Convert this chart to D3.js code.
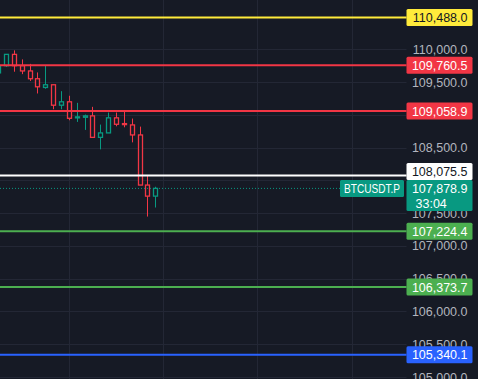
<!DOCTYPE html>
<html>
<head>
<meta charset="utf-8">
<script src="https://cdn.jsdelivr.net/npm/d3@7"></script>
<style>
  html, body { margin: 0; padding: 0; background: #161a25; overflow: hidden; }
</style>
</head>
<body>
<div id="chart-container"></div>
<script>
// candles, oldest first (first one is cut by the left edge)
var candleOpen  = [109642, 109752, 109925, 109752, 109672, 109553, 109420, 109461, 109149, 109201, 108956, 108965, 108986, 108658, 108726, 108956, 108868, 108848, 108695, 107930, 107761];
var candleHigh  = [109760, 109930, 109986, 109848, 109780, 109649, 109754, 109461, 109363, 109293, 109185, 109006, 109124, 108853, 109037, 109037, 109057, 108945, 108822, 108077, 107904];
var candleLow   = [109620, 109734, 109660, 109623, 109519, 109328, 109400, 109087, 109087, 108919, 108894, 108772, 108658, 108475, 108726, 108827, 108812, 108582, 107930, 107449, 107587];
var candleClose = [109752, 109925, 109752, 109672, 109553, 109430, 109461, 109149, 109201, 108949, 108971, 108986, 108658, 108726, 108956, 108858, 108853, 108695, 107930, 107761, 107878.9];

// horizontal levels drawn on the chart
var levelPrices = [110488.0, 109760.5, 109058.9, 108075.5, 107224.4, 106373.7, 105340.1];
var levelKinds  = ["yellow", "red", "red", "white", "green", "green", "blue"];

var priceTicks = [105000, 105500, 106000, 106500, 107000, 107500, 108000, 108500, 109000, 109500, 110000, 110500];
var timeGridIndex = [9, 21, 33, 45];

var symbolName = "BTCUSDT.P";
var lastPrice = 107878.9;
var countdown = "33:04";

var outterWidth = 478;
var outterHeight = 379;
var plotRight = 406.5;
var bg = "#161a25";
var gridColor = "#232735";
var upColor = "#089981";
var downColor = "#f23645";
var levelColors = {
  yellow: {line: "#ffeb3b", text: "#131722"},
  red: {line: "#f23645", text: "#ffffff"},
  white: {line: "#ffffff", text: "#131722"},
  green: {line: "#4caf50", text: "#ffffff"},
  blue: {line: "#2962ff", text: "#ffffff"}
};
var fontFamily = "'Liberation Sans', Arial, sans-serif";

var fmt = d3.format(",.1f");

var svg = d3.select("div#chart-container").append("svg")
  .attr("width", outterWidth)
  .attr("height", outterHeight)
  .style("display", "block")
  .style("background", bg);

var y = d3.scaleLinear().domain([105000, 110500]).range([377.0, 16.7]);
var x = d3.scaleLinear().domain([0, 20]).range([-1.9, 155.3]);

var boxW = 66;
var boxH = 17;
var closeTop = y(lastPrice) - 8.5;
var closeBoxH = 31;

var levels = levelPrices.map(function (p, i) { return {price: p, kind: levelKinds[i]}; });
// box centre of each level label, pushed up when it would sit on the last price box
levels.forEach(function (d) {
  var cy = y(d.price);
  if (cy + boxH / 2 > closeTop && cy - boxH / 2 < closeTop + closeBoxH) cy = closeTop - boxH / 2;
  d.cy = cy;
});

// grid
var grid = svg.append("g").attr("class", "grid");
grid.selectAll("line.h").data(priceTicks).enter().append("line")
  .attr("class", "h")
  .attr("x1", 0).attr("x2", plotRight)
  .attr("y1", function (d) { return Math.round(y(d)) + 0.5; })
  .attr("y2", function (d) { return Math.round(y(d)) + 0.5; })
  .attr("stroke", gridColor).attr("stroke-width", 1);
grid.selectAll("line.v").data(timeGridIndex).enter().append("line")
  .attr("class", "v")
  .attr("x1", function (d) { return Math.round(x(d)) + 0.5; })
  .attr("x2", function (d) { return Math.round(x(d)) + 0.5; })
  .attr("y1", 0).attr("y2", outterHeight)
  .attr("stroke", gridColor).attr("stroke-width", 1);

// price axis labels - the ones hidden under a price box are not drawn
function hiddenTick(v) {
  var ty = y(v);
  if (Math.abs(ty - (closeTop + closeBoxH / 2)) < closeBoxH / 2) return true;
  return levels.some(function (d) { return Math.abs(ty - d.cy) < 6; });
}
svg.append("g").attr("class", "priceAxis")
  .selectAll("text").data(priceTicks.filter(function (v) { return !hiddenTick(v); })).enter().append("text")
  .attr("x", 467.5)
  .attr("y", function (d) { return y(d); })
  .attr("dy", "0.36em")
  .attr("text-anchor", "end")
  .attr("font-size", "12.5px")
  .attr("font-family", fontFamily)
  .attr("fill", "#b2b5be")
  .text(function (d) { return fmt(d); });

// candles (hollow bodies)
var candles = d3.range(candleOpen.length).map(function (i) {
  return {i: i, o: candleOpen[i], h: candleHigh[i], l: candleLow[i], c: candleClose[i]};
});
var bodyW = 4;
var cg = svg.append("g").attr("class", "candles");
var candle = cg.selectAll("g").data(candles).enter().append("g");
candle.append("line")
  .attr("x1", function (d) { return Math.round(x(d.i)) + 0.5; })
  .attr("x2", function (d) { return Math.round(x(d.i)) + 0.5; })
  .attr("y1", function (d) { return y(d.h); })
  .attr("y2", function (d) { return y(d.l); })
  .attr("stroke", function (d) { return d.c >= d.o ? upColor : downColor; })
  .attr("stroke-width", 1);
candle.append("rect")
  .attr("x", function (d) { return Math.round(x(d.i)) + 0.5 - bodyW / 2; })
  .attr("y", function (d) { return y(Math.max(d.o, d.c)); })
  .attr("width", bodyW)
  .attr("height", function (d) { return Math.max(1, Math.abs(y(d.o) - y(d.c))); })
  .attr("fill", bg)
  .attr("stroke", function (d) { return d.c >= d.o ? upColor : downColor; })
  .attr("stroke-width", 1.3);

// last price dotted line
svg.append("line")
  .attr("x1", 0).attr("x2", 340)
  .attr("y1", y(lastPrice)).attr("y2", y(lastPrice))
  .attr("stroke", upColor).attr("stroke-width", 1)
  .attr("stroke-dasharray", "1,2");

// level lines
svg.append("g").attr("class", "levels")
  .selectAll("line").data(levels).enter().append("line")
  .attr("x1", 0).attr("x2", plotRight)
  .attr("y1", function (d) { return y(d.price); })
  .attr("y2", function (d) { return y(d.price); })
  .attr("stroke", function (d) { return levelColors[d.kind].line; })
  .attr("stroke-width", 2);

// last price box + symbol tag
svg.append("rect")
  .attr("x", plotRight).attr("y", closeTop)
  .attr("width", boxW).attr("height", closeBoxH)
  .attr("rx", 1.5)
  .attr("fill", upColor);
svg.append("text")
  .attr("x", 467.5).attr("y", y(lastPrice)).attr("dy", "0.36em")
  .attr("text-anchor", "end")
  .attr("font-size", "12.5px").attr("font-family", fontFamily)
  .attr("fill", "#ffffff")
  .text(fmt(lastPrice));
svg.append("text")
  .attr("x", 415.5).attr("y", y(lastPrice) + 15).attr("dy", "0.36em")
  .attr("font-size", "12.5px").attr("font-family", fontFamily)
  .attr("fill", "#ffffff")
  .text(countdown);

svg.append("rect")
  .attr("x", 340).attr("y", closeTop)
  .attr("width", 64).attr("height", boxH)
  .attr("rx", 1.5)
  .attr("fill", upColor);
svg.append("text")
  .attr("x", 344).attr("y", y(lastPrice)).attr("dy", "0.36em")
  .attr("font-size", "12.5px").attr("font-family", fontFamily)
  .attr("textLength", 56).attr("lengthAdjust", "spacingAndGlyphs")
  .attr("fill", "#ffffff")
  .text(symbolName);

// level price boxes
var lb = svg.append("g").attr("class", "levelBoxes")
  .selectAll("g").data(levels).enter().append("g")
  .attr("transform", function (d) { return "translate(0," + d.cy + ")"; });
lb.append("rect")
  .attr("x", plotRight).attr("y", -boxH / 2)
  .attr("width", boxW).attr("height", boxH)
  .attr("rx", 1.5)
  .attr("fill", function (d) { return levelColors[d.kind].line; });
lb.append("text")
  .attr("x", 467.5).attr("y", 0).attr("dy", "0.36em")
  .attr("text-anchor", "end")
  .attr("font-size", "12.5px").attr("font-family", fontFamily)
  .attr("fill", function (d) { return levelColors[d.kind].text; })
  .text(function (d) { return fmt(d.price); });
</script>
</body>
</html>
